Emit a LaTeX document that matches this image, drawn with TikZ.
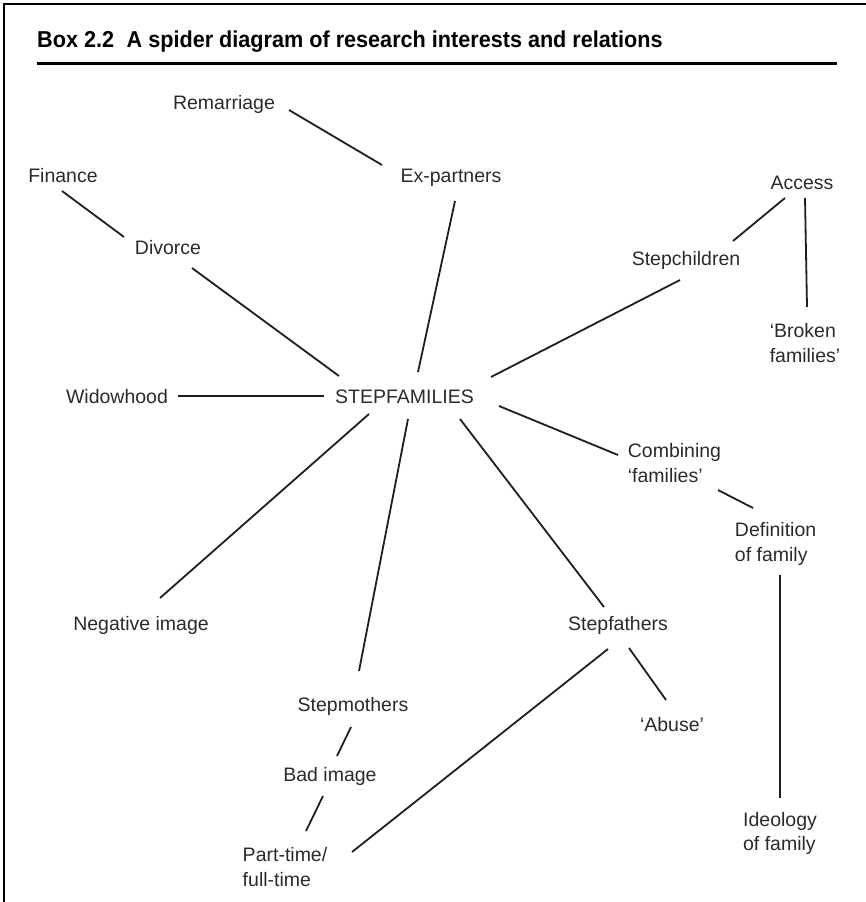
\documentclass[tikz,border=0pt]{standalone}
\usepackage{fontspec}
\setmainfont{Liberation Sans}
\newfontfamily\titlefont[FakeStretch=0.94]{Liberation Sans}
\usetikzlibrary{calc}
\newcommand\lbfont{\fontsize{19.5}{24.5}\selectfont}
\definecolor{ink}{HTML}{1E1E1E}
\definecolor{txt}{HTML}{2A2A2A}
\begin{document}
\begin{tikzpicture}[x=1pt,y=-1pt,
  lbl/.style={font=\lbfont, text=txt, inner sep=0pt, text height=14.2pt, text depth=4.1pt},
  two/.style={font=\lbfont, text=txt, inner sep=0pt, align=left},
  link/.style={draw=ink, line width=1.8pt},
  frame/.style={draw=black, line width=2.5pt}]
\useasboundingbox (0,0) rectangle (866,902);
\draw[frame] (4,902) -- (4,4) -- (866,4);
\node[anchor=base west, inner sep=0pt, font={\titlefont\bfseries\fontsize{23}{26}\selectfont}] (title) at (37,47)
  {Box 2.2\hspace{0.55em}A spider diagram of research interests and relations};
\draw[line width=3pt] (37,63.5) -- (837,63.5);

\node[lbl] (rem) at (224,104) {Remarriage};
\node[lbl] (exp) at (451,177) {Ex-partners};
\node[lbl] (fin) at (63,177) {Finance};
\node[lbl] (div) at (168,249) {Divorce};
\node[lbl] (acc) at (802,184) {Access};
\node[lbl] (stc) at (686,260) {Stepchildren};
\node[two] (brk) at (805,343) {‘Broken\\families’};
\node[lbl] (wid) at (117,398) {Widowhood};
\node[lbl] (sf) at (404.5,398) {STEPFAMILIES};
\node[two] (cmb) at (674.5,463) {Combining\\‘families’};
\node[two] (def) at (775.6,544) {Definition\\of family};
\node[lbl] (neg) at (141,625) {Negative image};
\node[lbl] (sfa) at (618,625) {Stepfathers};
\node[lbl] (abu) at (672,726) {‘Abuse’};
\node[lbl] (smo) at (353,706) {Stepmothers};
\node[lbl] (bad) at (330,776) {Bad image};
\node[two] (pt) at (285,867) {Part-time/\\full-time};
\node[two] (ide) at (780,833.5) {Ideology\\of family};

\draw[link] ($(rem)+(65,6)$) -- ($(exp)+(-69,-12)$);
\draw[link] ($(exp)+(4,24)$) -- ($(sf)+(13.5,-26)$);
\draw[link] ($(fin)+(-1,14)$) -- ($(div)+(-44,-12)$);
\draw[link] ($(div)+(24,19)$) -- ($(sf)+(-65.5,-22)$);
\draw[link] ($(wid)+(61,-2)$) -- ($(sf)+(-80.5,-2)$);
\draw[link] ($(stc)+(-6,20)$) -- ($(sf)+(86.5,-21)$);
\draw[link] ($(stc)+(47,-19)$) -- ($(acc)+(-17,14)$);
\draw[link] ($(acc)+(3,14)$) -- ($(brk)+(2,-36)$);
\draw[link] ($(sf)+(94.5,8)$) -- ($(cmb)+(-56.5,-8)$);
\draw[link] ($(cmb)+(43.5,27)$) -- ($(def)+(-22.6,-36)$);
\draw[link] ($(def)+(4.4,31)$) -- ($(ide)+(0,-36)$);
\draw[link] ($(sf)+(-35.5,16)$) -- ($(neg)+(19,-27)$);
\draw[link] ($(sf)+(3.5,21)$) -- ($(smo)+(6,-35)$);
\draw[link] ($(sf)+(55.5,21)$) -- ($(sfa)+(-14,-18)$);
\draw[link] ($(sfa)+(-10,24)$) -- ($(pt)+(67,-15)$);
\draw[link] ($(sfa)+(11,23)$) -- ($(abu)+(-6,-26)$);
\draw[link] ($(smo)+(-2,21)$) -- ($(bad)+(7,-20)$);
\draw[link] ($(bad)+(-7,20)$) -- ($(pt)+(21,-36)$);
\end{tikzpicture}
\end{document}
